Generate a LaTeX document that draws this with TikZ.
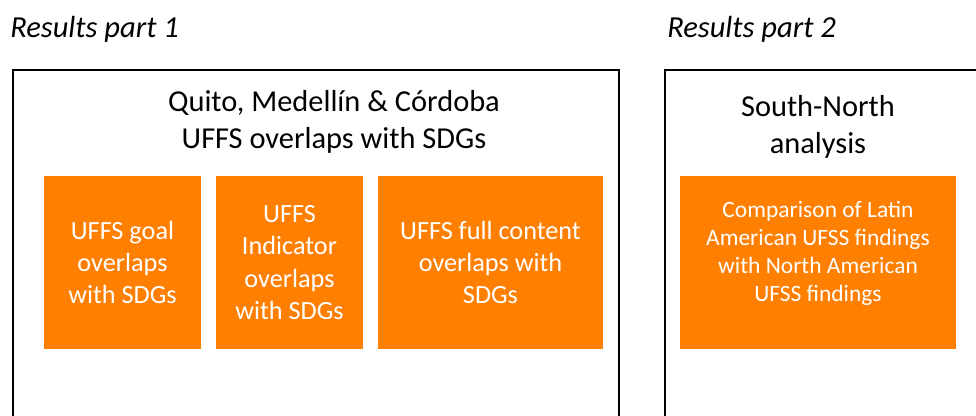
\documentclass[tikz,border=0pt]{standalone}
\usepackage{fontspec}
\setmainfont{Carlito}
\definecolor{ufforange}{RGB}{255,127,0}
\tikzset{
  frame/.style={draw=black, line width=1.5pt},
  parttitle/.style={anchor=base west, inner sep=0pt, font=\fontsize{22.9}{27}\selectfont\itshape},
  headtext/.style={align=center, inner sep=0pt, font=\fontsize{22.8}{27.5}\selectfont},
  finding/.style={fill=ufforange, text=white, align=center, inner sep=0pt,
    font=\fontsize{19.7}{24.3}\selectfont},
  comparison/.style={finding, font=\fontsize{17.6}{21}\selectfont},
}
\begin{document}
\begin{tikzpicture}[x=0.75pt, y=-0.75pt]
  \clip (0,0) rectangle (976,416);
  % part titles
  \node[parttitle] (part1) at (10,38) {Results part 1};
  \node[parttitle] (part2) at (667,38) {Results part 2};
  % frames, open at the bottom and the right
  \draw[frame] (13,420) -- (13,70) -- (619,70) -- (619,420);
  \draw[frame] (665,420) -- (665,70) -- (980,70);
  % part 1
  \node[headtext] (cities) at (334,122) {Quito, Medellín \& Córdoba\\UFFS overlaps with SDGs};
  \node[finding, minimum width=157*0.75pt, minimum height=173*0.75pt] (goal) at (122.5,262.5)
    {UFFS goal\\overlaps\\with SDGs};
  \node[finding, minimum width=147*0.75pt, minimum height=173*0.75pt] (indicator) at (289.5,262.5)
    {UFFS\\Indicator\\overlaps\\with SDGs};
  \node[finding, minimum width=225*0.75pt, minimum height=173*0.75pt] (content) at (490.5,262.5)
    {UFFS full content\\overlaps with\\SDGs};
  % part 2
  \node[headtext] (southnorth) at (818,127) {South-North\\analysis};
  \node[comparison, minimum width=276*0.75pt, minimum height=173*0.75pt, text depth=22*0.75pt] (compare) at (818,262.5)
    {Comparison of Latin\\American UFSS findings\\with North American\\UFSS findings};
\end{tikzpicture}
\end{document}
